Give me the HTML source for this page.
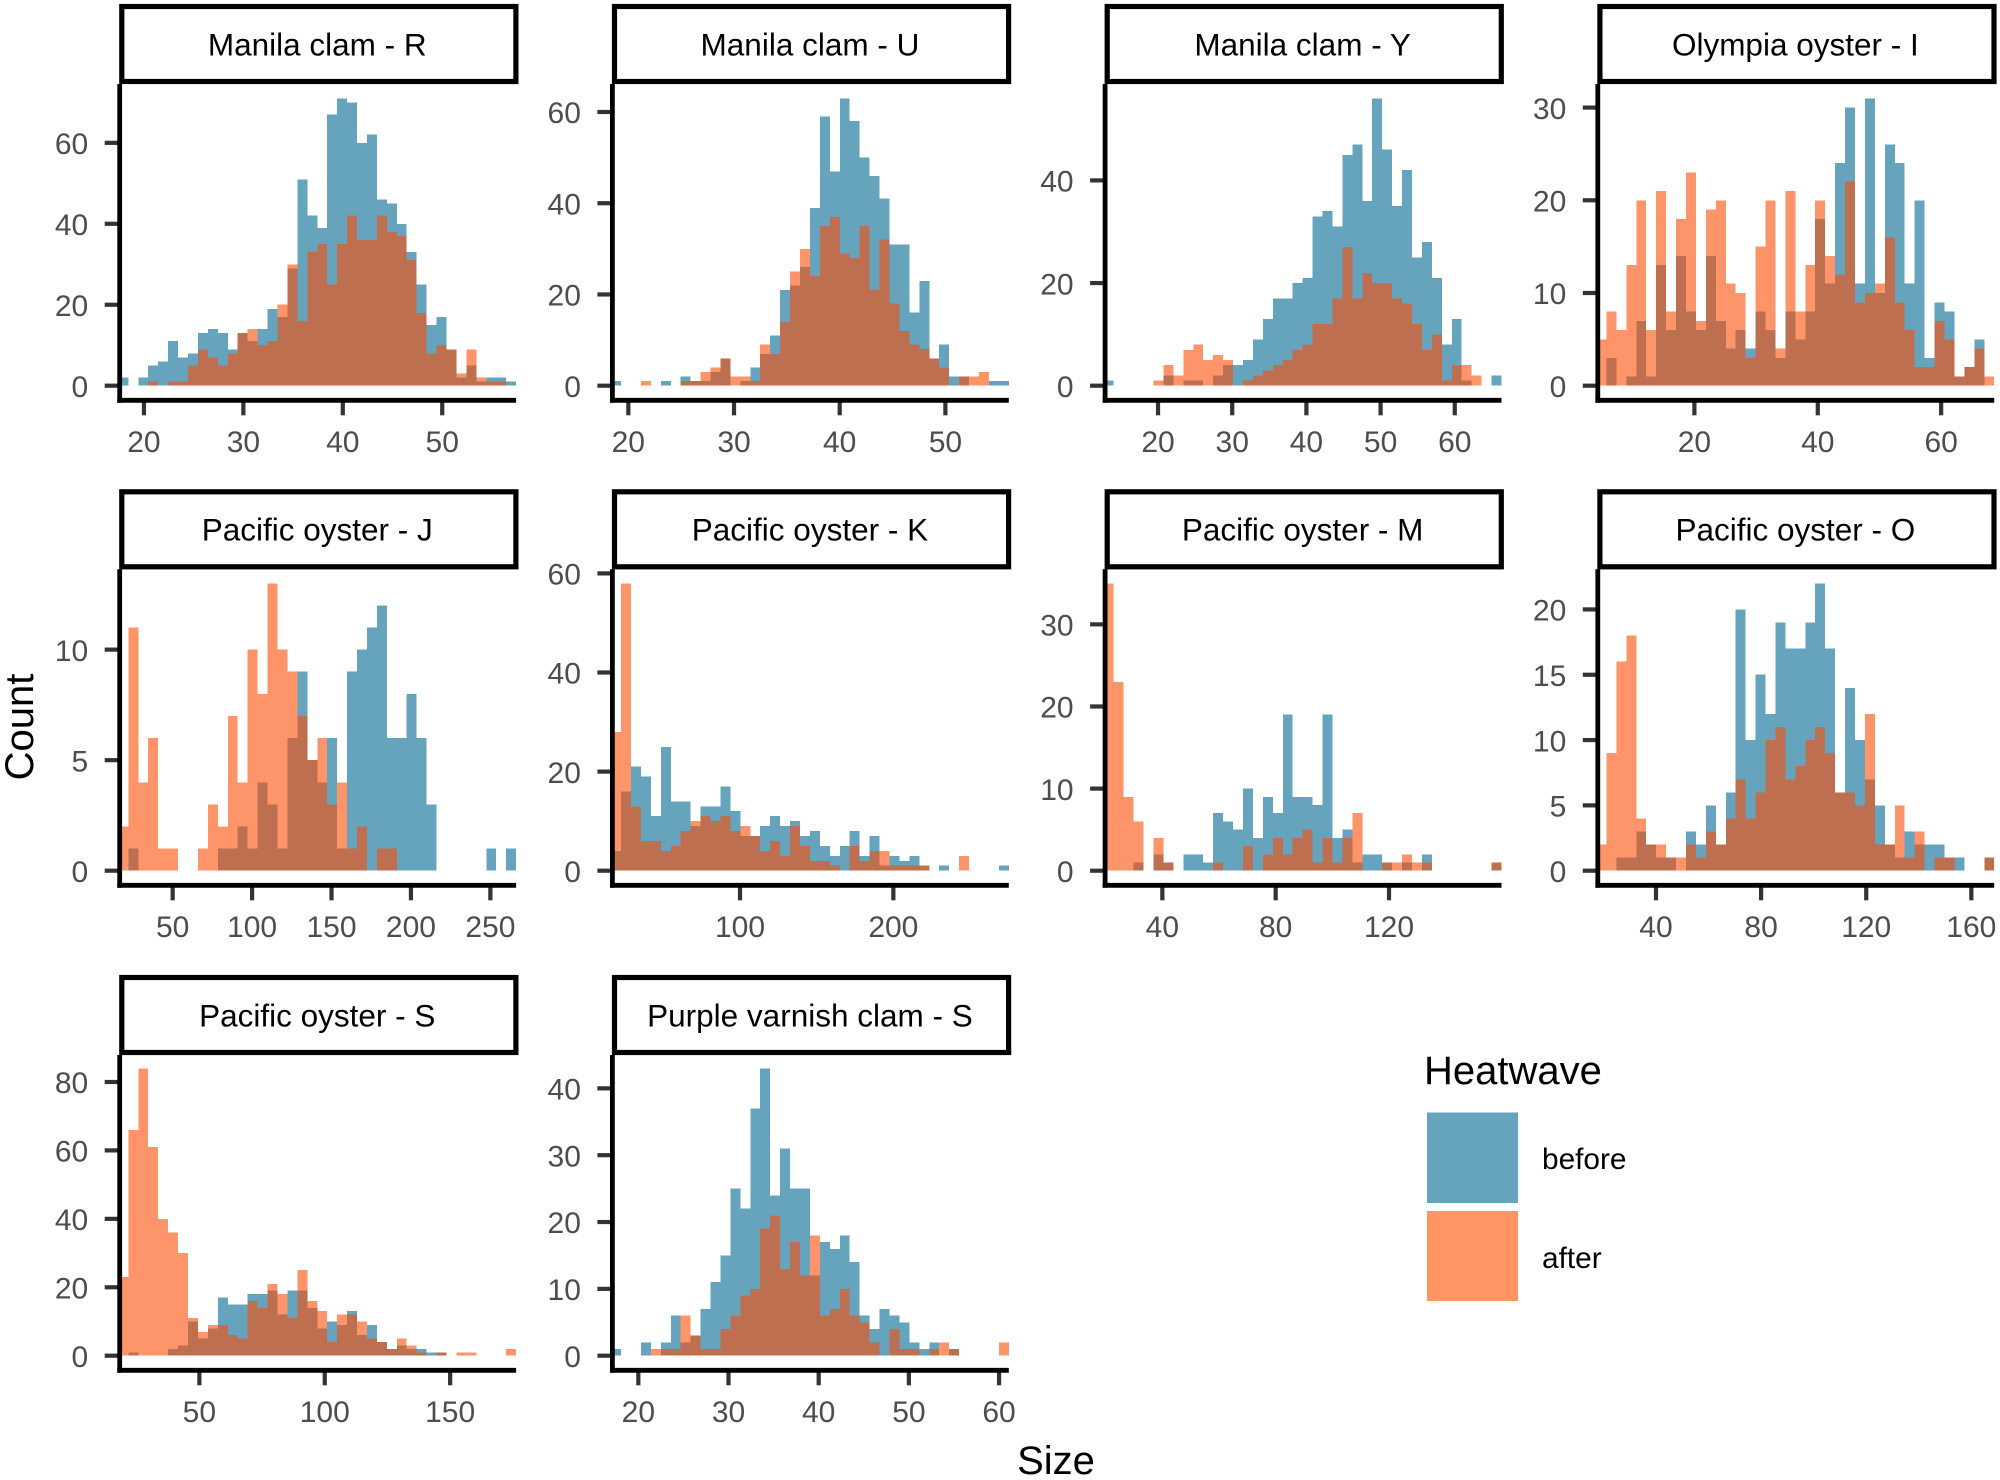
<!DOCTYPE html>
<html lang="en">
<head>
<meta charset="utf-8">
<title>Size histograms before and after heatwave</title>
<style>
html,body{margin:0;padding:0;background:#fff;}
#chart{display:block;width:2000px;height:1480px;font-family:"Liberation Sans",Arial,sans-serif;}
</style>
</head>
<body>
<svg id="chart" xmlns="http://www.w3.org/2000/svg" width="2000" height="1480" viewBox="0 0 2000 1480">
  <rect x="0" y="0" width="2000" height="1480" fill="#ffffff"/>
  <g id="panels"></g>
  <text transform="translate(33,727) rotate(-90)" text-anchor="middle" font-size="40" fill="#000">Count</text>
  <text x="1056" y="1474" text-anchor="middle" font-size="40" fill="#000">Size</text>
  <g>
    <text x="1424" y="1084" font-size="40" fill="#000">Heatwave</text>
    <rect x="1427" y="1112.5" width="91" height="90.5" fill="#66a4be"/>
    <text x="1542" y="1169" font-size="29.8" fill="#000">before</text>
    <rect x="1427" y="1211" width="91" height="90" fill="#fe9563"/>
    <text x="1542" y="1268" font-size="29.8" fill="#000">after</text>
  </g>
</svg>
<script>
// Facet titles
const panelTitles = ["Manila clam - R","Manila clam - U","Manila clam - Y","Olympia oyster - I","Pacific oyster - J","Pacific oyster - K","Pacific oyster - M","Pacific oyster - O","Pacific oyster - S","Purple varnish clam - S"];

// Counts per bin (40 bins per facet)
const beforeManilaR = [2,0,2,5,6,11,7,8,13,14,13,9,13,11,14,19,17,29,51,42,39,67,71,70,60,62,46,45,40,33,25,15,17,9,2,5,1,2,2,1];
const afterManilaR = [0,0,0,1,0,1,1,5,9,7,5,8,13,14,10,11,20,30,16,33,35,25,35,42,36,36,42,38,37,31,18,8,10,9,3,9,2,1,1,0];
const beforeManilaU = [1,0,0,0,0,1,0,2,1,1,3,6,0,1,4,7,11,21,22,26,39,59,47,63,58,50,46,41,31,31,16,23,6,9,2,2,0,0,1,1];
const afterManilaU = [0,0,0,1,0,0,0,1,1,3,4,6,2,2,1,9,7,14,25,30,24,35,37,29,28,35,21,32,18,12,9,8,6,4,0,2,2,3,0,0];
const beforeManilaY = [1,0,0,0,0,0,2,0,1,1,0,2,4,4,5,9,13,17,17,20,21,33,34,31,45,47,36,56,46,35,42,25,28,21,8,13,1,0,0,2];
const afterManilaY = [0,0,0,0,0,1,4,2,7,8,5,6,5,0,1,2,3,4,5,7,8,12,12,17,27,17,22,20,20,17,16,12,7,10,1,4,4,2,0,0];
const beforeOlympiaI = [0,3,0,1,7,1,13,6,14,8,6,14,7,4,6,4,8,6,3,8,5,8,18,11,24,30,11,31,10,26,24,11,20,3,9,8,1,2,5,0];
const afterOlympiaI = [5,8,6,13,20,6,21,8,18,23,7,19,20,11,10,3,15,20,4,21,8,13,20,14,12,22,9,10,11,16,9,6,2,2,7,5,1,2,4,1];
const beforePacificJ = [0,1,0,0,0,0,0,0,0,0,1,1,2,1,4,3,1,6,9,5,4,6,1,9,10,11,12,6,6,8,6,3,0,0,0,0,0,1,0,1];
const afterPacificJ = [2,11,4,6,1,1,0,0,1,3,2,7,4,10,8,13,10,9,7,5,6,3,4,1,2,0,1,1,0,0,0,0,0,0,0,0,0,0,0,0];
const beforePacificK = [4,16,21,19,11,25,14,14,9,13,13,17,12,7,7,9,11,9,10,7,8,5,3,5,8,3,7,1,3,2,3,1,0,1,0,0,0,0,0,1];
const afterPacificK = [28,58,13,6,6,4,5,8,10,11,10,11,8,9,7,4,6,3,9,5,2,2,1,0,5,2,4,4,1,1,1,1,0,0,0,3,0,0,0,0];
const beforePacificM = [0,0,0,1,0,2,1,0,2,2,1,7,6,5,10,4,9,7,19,9,9,8,19,4,5,1,2,2,1,0,1,0,2,0,0,0,0,0,0,1];
const afterPacificM = [35,23,9,6,0,4,1,0,0,0,0,1,0,0,3,0,2,4,2,4,5,1,4,1,4,7,0,0,1,1,2,1,1,0,0,0,0,0,0,1];
const beforePacificO = [0,0,1,1,3,2,1,1,0,3,2,5,2,6,20,10,15,12,19,17,17,19,22,17,6,14,10,7,5,2,1,3,2,2,2,1,1,0,0,1];
const afterPacificO = [2,9,16,18,4,2,2,1,1,2,1,3,2,4,7,4,6,10,11,7,8,10,11,9,6,6,5,12,2,2,5,1,3,0,1,1,0,0,0,1];
const beforePacificS = [0,1,0,0,0,2,3,10,5,8,17,15,15,18,18,19,12,19,19,14,8,10,9,13,6,9,4,2,3,2,2,1,1,0,0,0,0,0,0,0];
const afterPacificS = [23,66,84,61,40,36,30,11,7,9,9,6,5,16,14,21,18,11,25,16,13,4,12,12,10,5,4,2,5,3,1,0,1,0,1,1,0,0,0,2];
const beforePurpleS = [1,0,0,2,0,2,6,2,3,7,11,15,25,22,37,43,24,31,25,25,12,17,16,18,14,6,4,7,6,5,2,1,2,0,1,0,0,0,0,0];
const afterPurpleS = [0,0,0,0,1,1,1,6,3,1,1,4,6,9,10,19,21,13,17,12,18,6,7,10,6,5,2,0,4,1,1,0,1,2,1,0,0,0,0,2];

const beforeSeries = [beforeManilaR,beforeManilaU,beforeManilaY,beforeOlympiaI,beforePacificJ,beforePacificK,beforePacificM,beforePacificO,beforePacificS,beforePurpleS];
const afterSeries = [afterManilaR,afterManilaU,afterManilaY,afterOlympiaI,afterPacificJ,afterPacificK,afterPacificM,afterPacificO,afterPacificS,afterPurpleS];

// Axis domains: size at panel edges, tallest count in each facet
const xDomainMin = [17.43,18.37,12.69,4.13,15.83,15.9,19.34,17.36,17.71,16.98];
const xDomainMax = [57.43,56.0,66.3,68.6,266.2,275.3,159.7,168.7,176.3,61.08];
const yDomainMax = [71,63,56,31,13,58,35,22,84,43];

// Tick labels
const xTickLabels = [[20,30,40,50],[20,30,40,50],[20,30,40,50,60],[20,40,60],[50,100,150,200,250],[100,200],[40,80,120],[40,80,120,160],[50,100,150],[20,30,40,50,60]];
const yTickLabels = [[0,20,40,60],[0,20,40,60],[0,20,40],[0,10,20,30],[0,5,10],[0,20,40,60],[0,10,20,30],[0,5,10,15,20],[0,20,40,60,80],[0,10,20,30,40]];

const SVG_NS = "http://www.w3.org/2000/svg";
const COL_START = 118.4, COL_STEP = 492.7, PANEL_W = 397.7;
const ROW_START = 4, ROW_STEP = 485;
const STRIP_H = 80, BASE_OFF = 381.7, TOP_OFF = 94.3, AXIS_OFF = 396.3;
const BEFORE_FILL = "#006793", BEFORE_ALPHA = 0.6, AFTER_FILL = "#fd4a00", AFTER_ALPHA = 0.585;

function make(tag, attrs, parent) {
  const el = document.createElementNS(SVG_NS, tag);
  for (const k in attrs) el.setAttribute(k, attrs[k]);
  parent.appendChild(el);
  return el;
}

function drawBars(group, counts, seriesName, fill, alpha, xMin, xMax, xScale, yScale) {
  const binWidth = (xMax - xMin) / counts.length;
  counts.forEach(function (count, i) {
    if (count <= 0) return;
    const x0 = xScale(xMin + i * binWidth);
    const x1 = xScale(xMin + (i + 1) * binWidth);
    const y1 = yScale(count);
    const bar = make("rect", {x: x0, y: y1, width: x1 - x0, height: yScale(0) - y1, fill: fill, "fill-opacity": alpha, "shape-rendering": "crispEdges"}, group);
    
    
  });
}

function drawPanel(idx) {
  const root = document.getElementById("panels");
  const col = idx % 4, row = Math.floor(idx / 4);
  const left = COL_START + COL_STEP * col;
  const top = ROW_START + ROW_STEP * row;
  const stripTop = top + (row === 1 ? 0.3 : row === 2 ? 1 : 0);
  const xMin = xDomainMin[idx], xMax = xDomainMax[idx], yMax = yDomainMax[idx];
  const xScale = function (v) { return left + (v - xMin) / (xMax - xMin) * PANEL_W; };
  const yBase = top + BASE_OFF, yTop = top + TOP_OFF;
  const yScale = function (v) { return yBase - v / yMax * (yBase - yTop); };
  const axisY = top + AXIS_OFF, axisX = left + 1.3;

  const g = make("g", {}, root);
  
  

  const bars = make("g", {}, g);
  
  
  drawBars(bars, beforeSeries[idx], "before", BEFORE_FILL, BEFORE_ALPHA, xMin, xMax, xScale, yScale);
  drawBars(bars, afterSeries[idx], "after", AFTER_FILL, AFTER_ALPHA, xMin, xMax, xScale, yScale);

  yTickLabels[idx].forEach(function (v) {
    const y = yScale(v);
    const tick = make("line", {x1: axisX - 15, x2: axisX, y1: y, y2: y, stroke: "#333333", "stroke-width": 4.2}, g);
    
    
    const label = make("text", {x: axisX - 31.5, y: y + 11.2, "text-anchor": "end", "font-size": 30, fill: "#4d4d4d"}, g);
    
    
    label.textContent = v;
  });

  xTickLabels[idx].forEach(function (v) {
    const x = xScale(v);
    const tick = make("line", {x1: x, x2: x, y1: axisY, y2: axisY + 15, stroke: "#333333", "stroke-width": 4.2}, g);
    
    
    const label = make("text", {x: x, y: top + 448.2, "text-anchor": "middle", "font-size": 30, fill: "#4d4d4d"}, g);
    
    
    label.textContent = v;
  });

  const yAxis = make("line", {x1: axisX, x2: axisX, y1: stripTop + STRIP_H, y2: axisY + 2.4, stroke: "#000", "stroke-width": 4.8}, g);
  
  
  const xAxis = make("line", {x1: axisX - 2.4, x2: left + PANEL_W, y1: axisY, y2: axisY, stroke: "#000", "stroke-width": 4.8}, g);
  
  

  const strip = make("rect", {x: left + 3.4, y: stripTop + 2.5, width: PANEL_W - 3.6, height: STRIP_H - 5, fill: "#fff", stroke: "#000", "stroke-width": 5.2}, g);
  
  
  const title = make("text", {x: left + PANEL_W / 2, y: stripTop + 51.3, "text-anchor": "middle", "font-size": 31.5, fill: "#000"}, g);
  
  
  title.textContent = panelTitles[idx];
}

panelTitles.forEach(function (_, i) { drawPanel(i); });
</script>
</body>
</html>
